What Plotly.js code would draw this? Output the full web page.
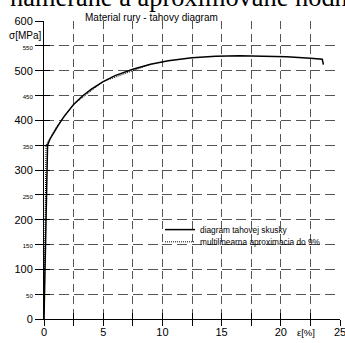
<!DOCTYPE html>
<html>
<head>
<meta charset="utf-8">
<script src="https://cdn.plot.ly/plotly-3.0.1.min.js"></script>
<style>
html,body{margin:0;padding:0;background:#fff;overflow:hidden;}
#chart{width:345px;height:343px;}
</style>
</head>
<body>
<div id="chart"></div>
<script>
// measured tensile-test curve (strain %, stress MPa)
const strain = [0, 0.05, 0.1, 0.15, 0.2, 0.3, 0.5, 0.8, 1.2, 1.7, 2.5, 3.2, 4.0, 5.0, 6.0, 7.5, 9.0, 10.5, 12.5, 14.5, 16.5, 18.5, 20.5, 22.5, 23.5, 23.6];
const stress = [0, 70, 140, 210, 290, 350, 362, 375, 390, 408, 432, 448, 463, 478, 490, 503, 513, 520, 526, 529, 530, 529, 528, 525, 523, 512];
// multilinear approximation up to 9 %
const approxStrain = [0, 0.17, 1.0, 2.5, 5.0, 9.0];
const approxStress = [0, 350, 385, 432, 478, 513];

const seriesNames = ['diagram tahovej skusky', 'multilinearna aproximacia do 9%'];
const xTickVals = [0, 2.5, 5, 7.5, 10, 12.5, 15, 17.5, 20, 22.5, 25];
const xTickText = ['0', '', '5', '', '10', '', '15', '', '20', '', '25'];
const yTickVals = [0, 50, 100, 150, 200, 250, 300, 350, 400, 450, 500, 550, 600];
const yMajor = [0, 100, 200, 300, 400, 500, 600];
const yTickText = yTickVals.map(v => yMajor.includes(v) ? String(v) : '<span style="font-size:6px">' + v + '</span>');

const mainTitle = 'namerane a aproximovane hodnoty';
const chartTitle = 'Material rury - tahovy diagram';
const yLabel = 'σ[MPa]';
const xLabel = 'ε[%]';

const FONT = 'Liberation Sans, Arial, sans-serif';

const traces = [
  {x: approxStrain, y: approxStress, mode: 'lines', name: seriesNames[1], legend: 'legend2',
   line: {color: '#000', width: 1, dash: '1px,1px'}, hoverinfo: 'skip'},
  {x: strain, y: stress, mode: 'lines', name: seriesNames[0], legend: 'legend',
   line: {color: '#000', width: 1.5}, hoverinfo: 'skip'},
  {x: strain, y: stress, xaxis: 'x2', yaxis: 'y2', mode: 'lines', showlegend: false,
   opacity: 0, line: {width: 0}, hoverinfo: 'skip'}
];

const gridCol = '#555';
const layout = {
  width: 345, height: 343,
  margin: {l: 44, r: 5, t: 21, b: 24, autoexpand: false},
  paper_bgcolor: '#fff', plot_bgcolor: '#fff',
  font: {family: FONT, color: '#000', size: 11},
  showlegend: true,
  xaxis: {range: [0, 25], tickvals: xTickVals, ticktext: xTickText, ticks: 'outside', ticklen: 6,
          tickcolor: '#000', showline: true, linecolor: '#000', linewidth: 1, zeroline: false,
          showgrid: true, gridcolor: gridCol, gridwidth: 1, griddash: '8px,4.5px',
          ticklabeloverflow: 'allow', automargin: false, ticklabelstandoff: -3,
          tickfont: {size: 11, family: FONT}, fixedrange: true},
  yaxis: {range: [0, 600], tickvals: yTickVals, ticktext: yTickText, ticks: 'outside', ticklen: 8,
          tickcolor: '#000', showline: true, linecolor: '#000', linewidth: 1, zeroline: false,
          showgrid: true, gridcolor: gridCol, gridwidth: 1, griddash: '10px,4.8px',
          ticklabeloverflow: 'allow', automargin: false,
          tickfont: {size: 11, family: FONT}, fixedrange: true},
  xaxis2: {overlaying: 'x', anchor: 'y2', side: 'bottom', range: [0, 25], tickvals: xTickVals,
           showticklabels: false, ticks: 'inside', ticklen: 6, tickcolor: '#000',
           showgrid: false, zeroline: false, showline: false, fixedrange: true},
  yaxis2: {overlaying: 'y', anchor: 'x2', side: 'left', range: [0, 600], tickvals: yTickVals,
           showticklabels: false, ticks: 'inside', ticklen: 6, tickcolor: '#000',
           showgrid: false, zeroline: false, showline: false, fixedrange: true},
  legend: {x: 0.392, y: 0.30, xanchor: 'left', yanchor: 'middle', bgcolor: 'rgba(0,0,0,0)',
           font: {size: 8.3, family: FONT}, itemwidth: 30, borderwidth: 0},
  legend2: {x: 0.392, y: 0.259, xanchor: 'left', yanchor: 'middle', bgcolor: 'rgba(0,0,0,0)',
           font: {size: 8.3, family: FONT}, itemwidth: 30, borderwidth: 0},
  annotations: [
    {text: mainTitle, xref: 'paper', yref: 'paper', x: (8 - 44) / 296, y: 1.022, xanchor: 'left', yanchor: 'bottom',
     showarrow: false, font: {family: 'Liberation Serif, Times New Roman, serif', size: 26.4, color: '#000'}},
    {text: chartTitle, xref: 'paper', yref: 'paper', x: (83 - 44) / 296, y: 1.012, xanchor: 'left', yanchor: 'middle',
     showarrow: false, font: {size: 10, family: FONT}},
    {text: yLabel, xref: 'paper', yref: 'paper', x: (25 - 44) / 296, y: 0.953, xanchor: 'center', yanchor: 'middle',
     showarrow: false, font: {size: 10, family: FONT}},
    {text: xLabel, xref: 'paper', yref: 'paper', x: (306 - 44) / 296, y: -0.045, xanchor: 'center', yanchor: 'middle',
     showarrow: false, font: {size: 9.5, family: FONT}}
  ]
};

Plotly.newPlot('chart', traces, layout, {displayModeBar: false, staticPlot: true});
</script>
</body>
</html>
